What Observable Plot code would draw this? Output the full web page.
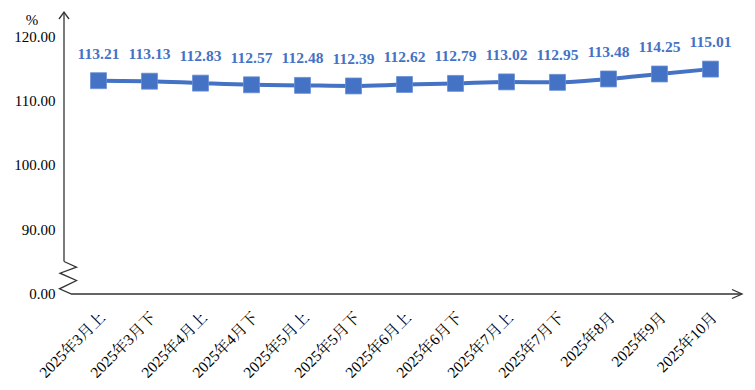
<!DOCTYPE html>
<html>
<head>
<meta charset="utf-8">
<script src="https://cdn.jsdelivr.net/npm/d3@7"></script>
<script src="https://cdn.jsdelivr.net/npm/@observablehq/plot@0.6"></script>
<style>
  html, body { margin: 0; padding: 0; background: #fff; }
  #chart svg { display: block; }
</style>
</head>
<body>
<div id="chart"></div>
<script>
const categories = ["2025年3月上","2025年3月下","2025年4月上","2025年4月下","2025年5月上","2025年5月下","2025年6月上","2025年6月下","2025年7月上","2025年7月下","2025年8月","2025年9月","2025年10月"];
const values = [113.21, 113.13, 112.83, 112.57, 112.48, 112.39, 112.62, 112.79, 113.02, 112.95, 113.48, 114.25, 115.01];
const yTicks = [0, 90, 100, 110, 120];
const unitLabel = "%";

const data = categories.map((c, i) => ({cat: c, v: values[i]}));
const blue = "#4472C4";
const serif = "'Liberation Serif', 'Noto Serif CJK SC', 'Noto Sans CJK SC', serif";

function decorations(index, scales, values, dims) {
  const y = scales.y;
  const ax = dims.marginLeft;
  const y0 = y(0) + 0.5;
  const yb = y(90) + 32;
  const yTop = y(120) - 24.5;
  const xEnd = dims.width - dims.marginRight;
  const g = d3.create("svg:g").attr("fill", "none").attr("stroke", "#333").attr("stroke-width", 1.3);
  g.append("path").attr("d", `M${ax},${yb}V${yTop}`);
  g.append("path").attr("d", `M${ax - 5},${yTop + 7}L${ax},${yTop}L${ax + 5},${yTop + 7}`);
  g.append("path").attr("d",
    `M${ax},${yb}L${ax + 12.5},${yb + 5.7}L${ax - 4},${yb + 11.7}L${ax + 12.5},${yb + 19}L${ax - 4.5},${yb + 27.3}L${ax + 7.5},${y0}H${xEnd}`);
  g.append("path").attr("d", `M${xEnd - 10},${y0 - 4.5}L${xEnd},${y0}L${xEnd - 10},${y0 + 4.5}`);
  g.append("text").attr("x", 32).attr("y", 25).attr("fill", "#000").attr("stroke", "none")
    .attr("text-anchor", "middle").attr("font-size", 15).attr("font-family", serif).text(unitLabel);
  return g.node();
}

const chart = Plot.plot({
  width: 755,
  height: 390,
  marginLeft: 64,
  marginRight: 13,
  marginTop: 10,
  marginBottom: 96.5,
  style: {background: "#fff", fontFamily: serif},
  x: {type: "point", domain: categories, range: [92.5, 716], padding: 0, axis: null},
  y: {type: "linear", domain: [0, 90, 120], range: [293.5, 229.5, 36.5], axis: null},
  marks: [
    Plot.axisY({ticks: yTicks, tickFormat: d3.format(".2f"), tickSize: 0, tickPadding: 9, fontSize: 15, fontFamily: serif, fill: "#000", label: null}),
    decorations,
    Plot.text(categories, {x: d => d, frameAnchor: "bottom", rotate: -45, textAnchor: "end", lineAnchor: "middle", dx: 4, dy: 21, fontSize: 15.5, fontFamily: serif, fill: "#000"}),
    Plot.line(data, {x: "cat", y: "v", stroke: blue, strokeWidth: 4, curve: "monotone-x"}),
    Plot.dot(data, {x: "cat", y: "v", symbol: "square", r: 9, fill: blue, stroke: "#6a8fd6", strokeWidth: 0.8}),
    Plot.text(data, {x: "cat", y: "v", text: d => d.v.toFixed(2), dy: -27, fontSize: 15.5, fontWeight: "bold", fontFamily: serif, fill: blue})
  ]
});
document.getElementById("chart").appendChild(chart);
</script>
</body>
</html>
